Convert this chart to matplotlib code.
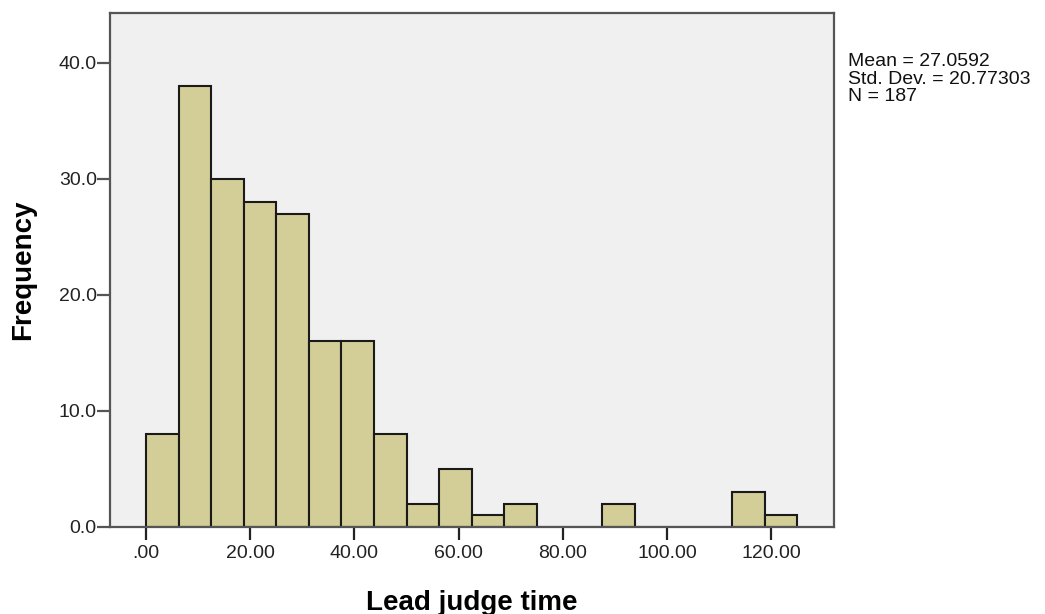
import numpy as np
import matplotlib
matplotlib.use("Agg")
import matplotlib.pyplot as plt

# histogram bins (width 6.25) and counts
bin_edges = [i * 6.25 for i in range(21)]
counts = [8, 38, 30, 28, 27, 16, 16, 8, 2, 5, 1, 2, 0, 0, 2, 0, 0, 0, 3, 1]
x_ticks = [0, 20, 40, 60, 80, 100, 120]
x_labels = [".00", "20.00", "40.00", "60.00", "80.00", "100.00", "120.00"]
y_ticks = [0, 10, 20, 30, 40]
y_labels = ["0.0", "10.0", "20.0", "30.0", "40.0"]
stats_text = "Mean = 27.0592\nStd. Dev. = 20.77303\nN = 187"

plt.rcParams['font.family'] = ['Liberation Sans', 'DejaVu Sans']

fig = plt.figure(figsize=(10.45, 6.14), dpi=100)
ax = fig.add_axes([0.1053, 0.1417, 0.6927, 0.8371])
ax.set_facecolor("#f0f0f0")

lefts = np.array(bin_edges[:-1])
widths = np.diff(bin_edges)
ax.bar(lefts, counts, width=widths, align="edge", color="#d3ce97",
       edgecolor="#1a1a1a", linewidth=1.5, zorder=2)

ax.set_xlim(-6.9, 132.0)
ax.set_ylim(0, 44.3)
ax.set_xticks(x_ticks)
ax.set_xticklabels(x_labels)
ax.set_yticks(y_ticks)
ax.set_yticklabels(y_labels)

for s in ax.spines.values():
    s.set_color("#555555")
    s.set_linewidth(1.6)

ax.tick_params(axis="x", direction="out", length=9, width=1.6, color="#222222",
               pad=4, labelsize=14, labelcolor="#222222")
ax.tick_params(axis="y", direction="out", length=9.5, width=1.6, color="#555555",
               pad=0, labelsize=14, labelcolor="#222222")

ax.set_xlabel("Lead judge time", fontsize=20, fontweight="bold", labelpad=20)
ax.set_ylabel("Frequency", fontsize=20, fontweight="bold", labelpad=16)

fig.text(848 / 1045, 1 - 53 / 614, stats_text, fontsize=14, va="top", ha="left",
         linespacing=1.05, color="#111111")

fig.savefig("out.png", dpi=100)
